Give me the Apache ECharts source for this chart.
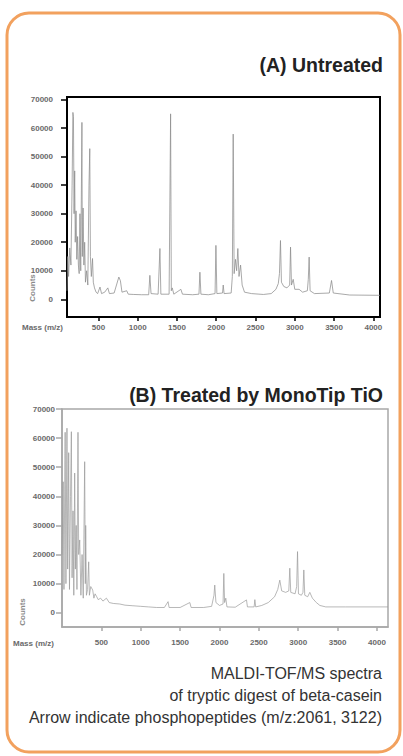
<!DOCTYPE html>
<html>
<head>
<meta charset="utf-8">
<script src="https://cdn.jsdelivr.net/npm/echarts@6/dist/echarts.min.js"></script>
<style>
  html, body { margin: 0; padding: 0; background: #fff; }
  #chart { width: 403px; height: 756px; }
</style>
</head>
<body>
<div id="chart"></div>
<script>
// (A) untreated spectrum
var massA = [100, 110, 120, 135, 150, 165, 175, 182, 190, 198, 205, 215, 225, 235, 245, 255, 265, 275, 290, 295,
  305, 315, 325, 335, 350, 365, 380, 390, 398, 410, 425, 435, 450, 470, 490, 520, 540, 580, 620, 640,
  700, 760, 780, 800, 860, 880, 950, 1050, 1140, 1155, 1170, 1260, 1283, 1295, 1400, 1419, 1428, 1440, 1460,
  1550, 1570, 1700, 1780, 1792, 1805, 1900, 1985, 1996, 2008, 2080, 2089, 2100, 2190, 2205, 2216, 2228,
  2245, 2260, 2275, 2290, 2310, 2330, 2360, 2450, 2600, 2700, 2760, 2790, 2805, 2818, 2830, 2860, 2900,
  2935, 2946, 2958, 2980, 3000, 3055, 3100, 3160, 3172, 3183, 3195, 3250, 3440, 3468, 3490, 3700, 4085]
var countsA = [3000, 15000, 8000, 18000, 12000, 40000, 65500, 64000, 30000, 45000, 20000, 31000, 14000, 22000, 12000, 9000, 30000, 10000, 62000, 15000,
  32000, 12000, 20000, 6000, 10000, 5000, 40000, 52800, 15000, 8000, 14300, 6000, 4000, 2500, 2000, 4300, 2000, 2500, 4000, 2000,
  2200, 7800, 6500, 2500, 3000, 1800, 1700, 1600, 1600, 8400, 2000, 1800, 17800, 1800, 1800, 65000, 3000, 4000, 1800,
  3500, 1800, 1600, 1800, 9500, 1800, 1600, 2000, 18900, 2000, 2200, 5000, 2000, 2200, 8000, 57900, 9000,
  14000, 10000, 17800, 8000, 12000, 5000, 2500, 2000, 1700, 2000, 3500, 5500, 9000, 20600, 6000, 4500, 4000,
  5000, 18300, 5000, 7000, 3500, 3500, 2500, 3000, 7000, 14800, 3000, 2000, 2200, 6600, 2200, 1500, 1400]

// (B) treated by MonoTip TiO
var massB = [0, 15, 25, 40, 50, 63, 72, 85, 95, 108, 119, 128, 140, 150, 161, 170, 180, 190, 203, 212,
  225, 240, 255, 270, 288, 296, 301, 310, 325, 339, 348, 365, 390, 405, 420, 441, 460, 490, 520, 564,
  600, 650, 733, 800, 900, 1000, 1100, 1200, 1300, 1347, 1360, 1500, 1623, 1640, 1800, 1900, 1930, 1940,
  1955, 2000, 2045, 2055, 2065, 2080, 2095, 2200, 2343, 2355, 2440, 2449, 2460, 2537, 2620, 2700, 2740,
  2766, 2790, 2840, 2880, 2893, 2905, 2960, 2980, 2991, 3003, 3040, 3060, 3071, 3083, 3120, 3147, 3180,
  3230, 3275, 3350, 3600, 4140]
var countsB = [20000, 45000, 8000, 62000, 10000, 63400, 15000, 55000, 8000, 40000, 62200, 12000, 35000, 6000, 48000, 15000, 30000, 8000, 62000, 20000,
  25000, 6000, 20000, 5000, 51900, 10000, 30000, 6000, 8000, 17500, 6000, 9000, 7800, 5000, 6500, 5500, 4500, 5000, 4000, 5000,
  3500, 3200, 3000, 2600, 2400, 2200, 2000, 1800, 1800, 3800, 1800, 1800, 3500, 1800, 1800, 2200, 6000, 9500,
  3500, 2500, 3000, 13500, 3500, 5000, 2000, 1900, 4400, 2000, 2000, 4500, 2000, 2500, 3500, 5500, 8000,
  11200, 7500, 7000, 7500, 15300, 7000, 6500, 9000, 21000, 6500, 6000, 7000, 14700, 6000, 5500, 7000, 5000,
  3500, 2500, 2000, 2000, 2000]

var countTicks = [0, 10000, 20000, 30000, 40000, 50000, 60000, 70000]
var massTicks = [500, 1000, 1500, 2000, 2500, 3000, 3500, 4000]

var font = "'Liberation Sans', Arial, sans-serif"

function pairs (xs, ys) {
  return xs.map(function (x, i) { return [x, ys[i]] })
}

function plain (v) {
  return String(v)
}

var myChart = echarts.init(document.getElementById('chart'), null, { renderer: 'svg' })

function yAxisFor (idx, min, max, color, margin) {
  return {
    type: 'value',
    gridIndex: idx,
    min: min,
    max: max,
    axisLine: { show: true, lineStyle: { color: color, width: idx === 0 ? 2 : 1.5 } },
    axisTick: { show: true, customValues: countTicks, length: 6, lineStyle: { color: color, width: 1.5 } },
    axisLabel: {
      customValues: countTicks,
      formatter: plain,
      margin: margin,
      color: '#6a6a6a',
      fontSize: 8,
      fontWeight: 'bold',
      fontFamily: font
    },
    splitLine: { show: false }
  }
}

function xAxisFor (idx, min, max, color, margin) {
  return {
    type: 'value',
    gridIndex: idx,
    min: min,
    max: max,
    axisLine: { show: true, onZero: false, lineStyle: { color: color, width: idx === 0 ? 2 : 1.5 } },
    axisTick: { show: true, customValues: massTicks, length: 4, lineStyle: { color: color, width: 1.5 } },
    axisLabel: {
      customValues: massTicks,
      formatter: plain,
      margin: margin,
      color: '#6a6a6a',
      fontSize: 8,
      fontWeight: 'bold',
      fontFamily: font
    },
    splitLine: { show: false }
  }
}

myChart.setOption({
  animation: false,
  backgroundColor: '#fff',
  grid: [
    { left: 67, top: 97, width: 313, height: 220, show: true, borderColor: '#000', borderWidth: 2 },
    { left: 62, top: 409, width: 326, height: 218, show: true, borderColor: '#a8a8a8', borderWidth: 1.5 }
  ],
  xAxis: [
    xAxisFor(0, 100, 4085, '#000', 6),
    xAxisFor(1, 0, 4140, '#a8a8a8', 11)
  ],
  yAxis: [
    yAxisFor(0, -6200, 70900, '#000', 14),
    yAxisFor(1, -4900, 70000, '#a8a8a8', 7)
  ],
  graphic: [
    {
      type: 'rect',
      shape: { x: 7, y: 13, width: 393, height: 739, r: 22 },
      style: { fill: 'none', stroke: '#f2a15e', lineWidth: 3 }
    },
    {
      type: 'text', x: 383, y: 65,
      style: { text: '(A) Untreated', textAlign: 'right', textVerticalAlign: 'middle', fontSize: 19.5, fontWeight: 'bold', fontFamily: font, fill: '#222' }
    },
    {
      type: 'text', x: 383, y: 395,
      style: { text: '(B) Treated by MonoTip TiO', textAlign: 'right', textVerticalAlign: 'middle', fontSize: 19.5, fontWeight: 'bold', fontFamily: font, fill: '#222' }
    },
    {
      type: 'text', x: 32, y: 288, rotation: Math.PI / 2,
      style: { text: 'Counts', textAlign: 'center', textVerticalAlign: 'middle', fontSize: 8, fontWeight: 'bold', fontFamily: font, fill: '#8a8a8a' }
    },
    {
      type: 'text', x: 22, y: 612, rotation: Math.PI / 2,
      style: { text: 'Counts', textAlign: 'center', textVerticalAlign: 'middle', fontSize: 8, fontWeight: 'bold', fontFamily: font, fill: '#8a8a8a' }
    },
    {
      type: 'text', x: 22, y: 327,
      style: { text: 'Mass (m/z)', textAlign: 'left', textVerticalAlign: 'middle', fontSize: 8, fontWeight: 'bold', fontFamily: font, fill: '#6a6a6a' }
    },
    {
      type: 'text', x: 13, y: 643,
      style: { text: 'Mass (m/z)', textAlign: 'left', textVerticalAlign: 'middle', fontSize: 8, fontWeight: 'bold', fontFamily: font, fill: '#6a6a6a' }
    },
    {
      type: 'text', x: 382, y: 673,
      style: { text: 'MALDI-TOF/MS spectra', textAlign: 'right', textVerticalAlign: 'middle', fontSize: 16, fontFamily: font, fill: '#333' }
    },
    {
      type: 'text', x: 382, y: 695,
      style: { text: 'of tryptic digest of beta-casein', textAlign: 'right', textVerticalAlign: 'middle', fontSize: 16, fontFamily: font, fill: '#333' }
    },
    {
      type: 'text', x: 382, y: 717,
      style: { text: 'Arrow indicate phosphopeptides (m/z:2061, 3122)', textAlign: 'right', textVerticalAlign: 'middle', fontSize: 16, fontFamily: font, fill: '#333' }
    }
  ],
  series: [
    {
      name: 'Untreated',
      type: 'line',
      xAxisIndex: 0,
      yAxisIndex: 0,
      symbol: 'none',
      lineStyle: { color: '#8c8c8c', width: 1, opacity: 0.75 },
      data: pairs(massA, countsA)
    },
    {
      name: 'Treated',
      type: 'line',
      xAxisIndex: 1,
      yAxisIndex: 1,
      symbol: 'none',
      lineStyle: { color: '#9a9a9a', width: 1, opacity: 0.7 },
      data: pairs(massB, countsB)
    }
  ]
})
</script>
</body>
</html>
